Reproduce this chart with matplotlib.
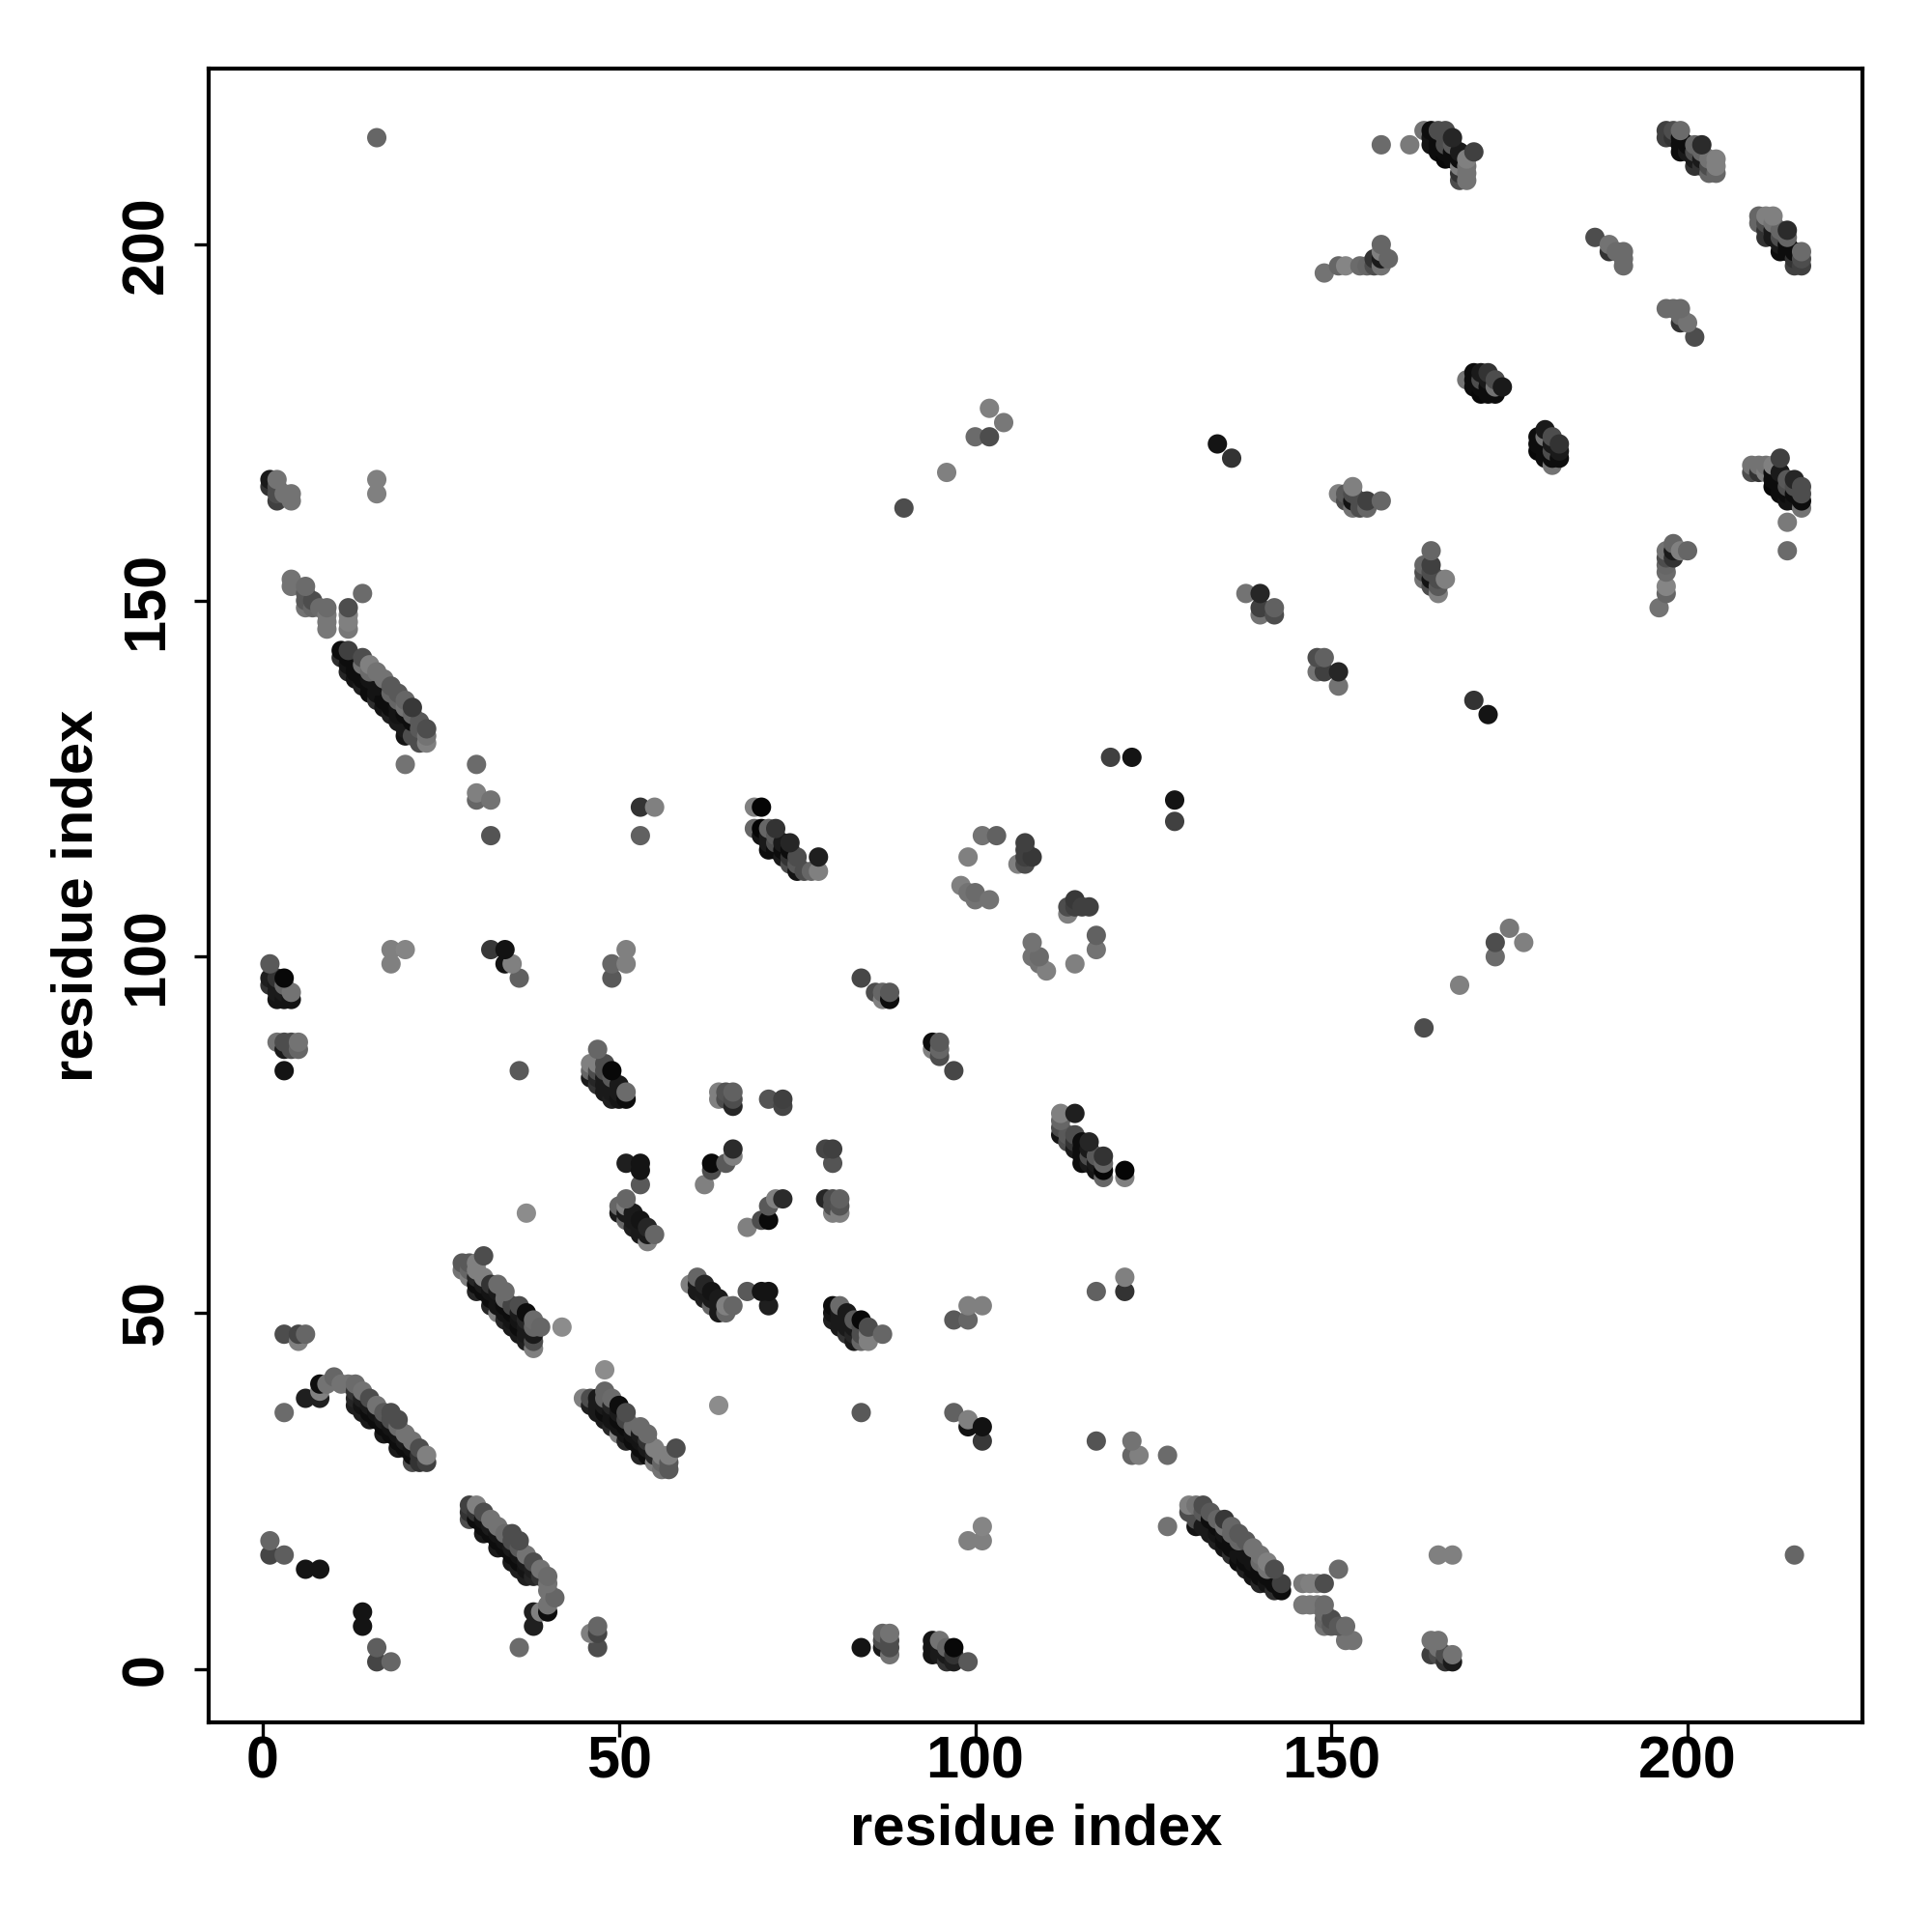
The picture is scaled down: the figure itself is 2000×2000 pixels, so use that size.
import pandas as pd
import matplotlib
matplotlib.use("Agg")
import matplotlib.pyplot as plt

# residue contacts: (residue a, residue b, grey level)
# the map is symmetric, each contact is drawn at (a, b) and (b, a)
near_start = [(1,18,.4),(1,16,.27),(3,16,.37),(6,14,.08),(8,14,.08),(3,36,.42),(3,47,.3),(5,47,.27),(5,46,.5),(6,47,.4),
    (47,6,.4),(46,5,.5),(47,5,.3),(47,3,.3)]
turn_a = [(6,38,.12),(8,38,.12),(8,39,.5),(8,40,.05),(9,40,.45),(10,41,.4),(11,40,.45),(12,40,.45),(13,40,.42),(13,39,.2),
    (13,38,.15),(13,37,.12),(14,39,.45),(14,38,.12),(14,37,.08),(14,36,.12),(15,38,.3),(15,37,.1),(15,36,.05),(15,35,.1),
    (16,37,.45),(16,36,.08),(16,35,.05),(17,36,.35),(17,35,.1),(17,34,.05),(17,33,.1),(18,36,.3),(18,35,.3),(18,34,.08),(18,33,.05),
    (19,35,.3),(19,34,.42),(19,33,.08),(19,32,.05),(19,31,.1),(20,33,.45),(20,32,.1),(20,31,.05),(21,32,.45),(21,31,.08),(21,30,.05),
    (21,29,.3),(22,31,.3),(22,30,.2),(22,29,.2),(23,30,.5),(23,29,.25)]
strand_b = [(29,23,.4),(29,22,.35),(29,21,.3),(30,23,.45),(30,22,.3),(30,21,.2),(31,22,.27),(31,20,.1),(31,19,.1),(32,21,.45),(32,20,.1),
    (32,19,.05),(33,20,.42),(33,19,.08),(33,18,.05),(33,17,.12),(34,19,.42),(34,18,.08),(34,17,.05),(35,18,.27),(35,17,.08),(35,16,.05),
    (35,15,.15),(36,17,.4),(36,16,.08),(36,15,.05),(37,16,.45),(37,15,.1),(37,14,.05),(37,13,.15),(38,15,.3),(38,14,.08),(38,13,.05),
    (39,14,.45),(39,13,.2),(40,13,.47),(40,12,.5),(40,11,.5),(41,10,.42),(40,9,.3),(40,8,.1),(39,8,.5),(38,8,.1),(38,6,.12),(36,3,.42)]
strand_c = [(45,38,.5),(46,38,.3),(46,37,.12),(47,38,.1),(47,37,.1),(47,36,.1),(48,42,.55),(48,39,.4),(48,38,.4),(48,37,.1),(48,36,.05),(48,35,.1),
    (49,38,.42),(49,36,.08),(49,35,.08),(49,34,.15),(50,37,.05),(50,36,.1),(50,35,.05),(50,34,.08),(51,36,.3),(51,35,.27),(51,34,.05),(51,33,.08),(51,32,.15),
    (52,34,.42),(52,33,.08),(52,32,.05),(53,34,.42),(53,33,.1),(53,32,.08),(53,31,.05),(53,30,.15),(54,33,.42),(54,32,.2),(54,31,.1),(54,30,.05),
    (55,31,.5),(55,30,.15),(55,29,.5),(56,30,.5),(56,28,.45),(57,30,.5),(57,29,.35),(57,28,.35),(58,31,.3)]
strand_d = [(28,57,.4),(28,56,.5),(29,57,.4),(29,56,.4),(30,57,.45),(30,56,.5),(30,55,.15),(30,53,.3),(31,58,.35),(31,55,.5),(31,54,.05),(31,53,.08),
    (32,54,.35),(32,53,.05),(32,52,.05),(32,51,.15),(33,54,.45),(33,53,.12),(33,52,.05),(33,51,.05),(33,50,.5),(34,52,.4),(34,51,.05),(34,50,.05),(34,49,.12),
    (35,51,.3),(35,50,.08),(35,49,.05),(35,48,.08),(36,50,.35),(36,49,.05),(36,48,.05),(36,47,.1),(37,50,.02),(37,49,.15),(37,48,.05),(38,49,.05),(38,48,.35),(38,47,.05),(38,46,.4),(38,45,.5),(39,48,.4),(42,48,.5)]
mid_low = [(60,54,.5),(61,55,.4),(62,54,.15),(62,53,.1),(62,52,.12),(63,53,.08),(63,52,.1),(63,51,.4),(64,52,.1),(64,51,.1),(64,50,.1),(65,51,.5),(65,50,.4),(66,51,.4),
    (68,53,.35),(70,53,.08),(71,53,.08),(71,51,.12),(80,51,.05),(80,50,.08),(80,49,.12),(81,51,.42),(81,50,.1),(81,49,.1),(81,48,.1),(82,49,.1),(82,48,.1),(82,47,.2),(83,49,.35),
    (83,48,.1),(83,47,.15),(83,46,.1),(84,49,.03),(84,47,.3),(84,46,.4),(85,47,.5),(85,46,.5),(87,47,.4),(99,51,.5),(101,51,.5),(97,49,.35),(99,49,.4),
    (117,53,.38),(121,55,.5),(121,53,.2),(64,37,.55),(84,36,.35),(97,36,.38),(99,35,.5),(99,34,.07),(101,34,.07),(101,32,.22),(117,32,.33),(122,32,.45),(122,30,.4),(123,30,.5),(127,30,.42),
    (127,20,.45),(99,18,.5),(101,18,.5),(101,20,.52),(84,3,.08),(87,5,.4),(88,5,.45),(88,4,.3),(88,3,.3),(87,3,.1),(88,2,.45),(87,4,.3),
    (94,4,.08),(94,3,.08),(94,2,.08),(95,4,.45),(95,3,.1),(95,2,.1),(96,3,.4),(96,2,.1),(96,1,.2),(97,3,.03),(97,2,.2),(97,1,.12),(99,1,.35)]
strand_e = [(131,20,.08),(131,21,.3),(132,20,.1),(133,19,.1),(134,18,.12),(134,19,.08),(135,18,.05),(135,17,.08),(136,16,.18),(136,17,.05),(137,16,.08),(137,15,.05),(138,14,.12),(138,15,.05),
    (139,14,.05),(139,13,.08),(140,12,.15),(140,13,.05),(141,12,.08),(142,11,.18),(142,12,.05),(143,12,.25),(143,11,.05),
    (130,23,.5),(130,22,.3),(131,23,.45),(132,23,.3),(132,22,.35),(133,22,.35),(134,21,.4),(135,21,.22),(136,20,.4),(136,19,.4),(137,19,.35),(137,18,.4),(138,18,.35),(139,17,.45),(140,16,.45),
    (140,15,.42),(141,15,.5),(141,14,.45),(142,14,.3),(146,12,.47),(148,12,.5),(149,12,.3),(151,14,.42),(146,9,.47),(147,9,.47),(149,9,.42),(149,8,.42),(149,7,.4),(149,6,.45),(150,7,.3),(150,6,.35),(151,6,.35),
    (152,6,.42),(152,4,.45),(153,4,.45),(164,4,.45),(164,2,.25),(165,4,.45),(165,16,.5),(167,16,.5),(215,16,.4),(166,2,.3),(166,1,.2),(167,2,.45),(167,1,.1),(165,2,.3)]
strand_f = [(1,167,.15),(2,167,.47),(1,166,.35),(2,165,.05),(2,164,.3),(3,165,.45),(4,165,.42),(4,164,.47),(16,167,.5),(16,165,.45),
    (4,153,.45),(4,152,.45),(6,152,.42),(6,150,.35),(6,149,.45),(7,150,.35),(7,149,.4),(8,149,.45),(9,149,.42),(9,148,.47),(9,146,.47),(14,151,.42),(12,149,.3),(12,147,.5),(12,146,.5),
    (11,143,.12),(12,143,.3),(11,142,.35),(12,142,.08),(12,141,.08),(12,140,.2),(13,141,.05),(13,140,.12),(14,141,.4),(14,140,.05),(14,139,.08),(15,141,.47),(15,140,.4),(15,139,.08),
    (16,138,.08),(17,139,.45),(18,138,.3),(18,137,.08),(18,136,.05),(20,136,.35),(20,135,.45),(21,134,.08),(19,135,.08),(21,133,.05),(22,132,.05),(20,134,.05),(20,132,.08),(20,131,.05),(21,131,.08),(20,127,.45),(30,127,.4),
    (30,123,.5),(30,122,.4),(32,122,.35),(32,117,.33),(53,121,.2),(55,121,.5),(53,117,.4)]
left_mid = [(18,101,.5),(20,101,.5),(18,99,.47),(32,101,.3),(34,101,.08),(34,99,.05),(35,99,.47),(36,97,.35),(51,101,.5),(51,99,.5),(49,99,.42),(49,97,.35),
    (1,99,.3),(1,97,.12),(1,96,.2),(2,97,.3),(3,97,.03),(2,96,.35),(3,96,.1),(4,95,.42),(2,95,.1),(3,95,.1),(2,94,.08),(4,94,.2),(3,94,.15),
    (2,88,.47),(3,88,.3),(4,88,.2),(5,88,.5),(3,87,.15),(4,87,.2),(5,87,.3),(3,84,.08),(36,84,.3),
    (47,87,.42),(46,85,.5),(47,85,.5),(48,85,.3),(46,84,.1),(47,84,.1),(46,83,.05),(47,83,.12),(48,84,.3),(49,84,.02),(49,83,.3),(48,83,.08),(48,82,.1),(49,82,.1),(48,81,.1),(50,82,.1),(49,81,.1),(50,81,.15),(49,80,.12),(50,80,.1),(51,81,.47),(51,80,.03),
    (51,71,.12),(53,71,.08),(53,70,.05),(53,68,.33),(37,64,.5),(51,66,.42),(50,65,.45),(51,65,.5),(50,64,.1),(51,64,.3),(52,64,.05),(51,63,.5),(52,63,.1),(53,63,.08),(52,62,.15),(53,62,.1),(54,62,.08),(53,61,.1),(54,61,.1),(55,61,.4),(54,60,.5)]
center = [(64,81,.5),(64,80,.5),(65,81,.33),(65,80,.3),(66,81,.38),(66,80,.3),(66,79,.15),(71,80,.33),(73,80,.25),(73,79,.27),(66,73,.17),(66,72,.5),(63,71,.04),(63,70,.3),(65,71,.35),(62,68,.5),
    (79,73,.22),(80,73,.22),(80,71,.3),(73,66,.17),(72,66,.5),(71,65,.35),(71,63,.05),(70,63,.25),(68,62,.5),(79,66,.12),(80,66,.2),(81,66,.4),(81,65,.3),(80,64,.5),(81,64,.5),
    (84,97,.28),(86,95,.3),(87,95,.4),(87,94,.5),(88,95,.35),(88,94,.05),(94,88,.05),(95,88,.33),(94,87,.45),(95,87,.3),(95,86,.3),(97,84,.25),
    (99,114,.5),(101,117,.45),(103,117,.38),(98,110,.5),(99,109,.45),(100,109,.42),(100,108,.45),(102,108,.45),(107,116,.25),(107,115,.25),(108,114,.22),(106,113,.5),(107,113,.3),
    (114,108,.25),(113,107,.25),(114,107,.25),(115,107,.25),(116,107,.22),(113,106,.5),(117,103,.4),(117,101,.45),(114,99,.5),(108,102,.45),(108,100,.45),(109,100,.4),(109,99,.45),(110,98,.5)]
helix_g = [(112,78,.5),(114,78,.12),(112,77,.4),(112,75,.08),(113,75,.35),(114,75,.3),(113,74,.3),(114,74,.2),(114,73,.1),(115,74,.05),(116,74,.15),(115,73,.05),(115,72,.05),(115,71,.05),(116,73,.1),(116,72,.3),(116,71,.1),
    (117,72,.35),(118,72,.2),(117,71,.1),(118,71,.4),(117,70,.08),(118,70,.02),(118,69,.4),(121,70,.02),(121,69,.5),
    (69,118,.45),(70,118,.05),(71,118,.4),(72,118,.3),(70,117,.05),(71,117,.05),(72,117,.1),(71,116,.05),(72,116,.1),(73,116,.5),(74,116,.2),(71,115,.05),(72,115,.1),(73,115,.1),(74,115,.1),(73,114,.08),(74,114,.1),(75,114,.35),(78,114,.12),(74,113,.1),(75,113,.1),(75,112,.1),(76,112,.3),(77,112,.5),(78,112,.5)]
upper_mid = [(90,163,.3),(96,168,.5),(100,173,.42),(102,173,.3),(102,177,.5),(104,175,.47),(134,172,.08),(136,170,.2),(151,165,.5),(152,165,.35),(153,166,.5),(152,164,.3),(153,164,.07),(153,163,.45),(154,164,.3),(155,164,.25),(155,163,.4),(157,164,.4),
    (164,157,.42),(163,155,.35),(164,155,.22),(163,154,.3),(164,154,.2),(163,153,.45),(164,153,.05),(165,153,.3),(165,152,.3),(165,151,.45),(166,153,.5),
    (138,151,.45),(140,151,.15),(140,149,.25),(140,148,.45),(142,149,.38),(142,148,.3),(148,142,.27),(149,142,.38),(148,140,.45),(149,140,.25),(151,140,.15),(151,138,.45),(170,136,.2),(172,134,.1),
    (119,128,.25),(122,128,.08),(128,122,.08),(128,119,.25),(16,215,.4)]
cluster_h = [(169,181,.45),(170,182,.05),(170,181,.05),(170,180,.05),(171,182,.1),(171,181,.3),(171,180,.05),(171,179,.03),(172,182,.2),(172,181,.1),(172,180,.05),(172,179,.05),(173,180,.45),(173,179,.05),(174,180,.1),
    (179,173,.05),(180,174,.08),(179,172,.05),(179,171,.05),(180,173,.05),(180,172,.4),(180,171,.05),(181,173,.3),(181,172,.35),(181,171,.35),(181,170,.15),(181,169,.45),(182,172,.2),(182,171,.4),(182,170,.05)]
cluster_i = [(197,216,.25),(197,215,.25),(198,216,.3),(199,216,.42),(198,215,.2),(199,215,.05),(199,214,.05),(199,213,.05),(200,214,.05),(200,213,.1),(201,214,.4),(201,213,.3),(202,214,.17),(201,212,.1),(202,212,.1),(201,211,.2),(202,211,.2),(203,212,.45),(203,211,.3),(204,212,.5),(204,211,.5),(203,210,.4),(204,210,.4),
    (210,204,.42),(210,203,.3),(211,204,.5),(212,204,.5),(211,203,.3),(212,203,.3),(211,202,.15),(212,202,.15),(211,201,.2),(212,201,.1),(213,202,.4),(214,202,.15),(213,201,.1),(214,201,.05),(213,200,.05),(213,199,.05),(214,200,.05),(214,199,.05),(215,199,.05),(216,199,.42),(216,198,.35),(215,198,.3),(215,197,.2),(216,197,.2),
    (187,201,.3),(189,200,.45),(189,199,.2),(190,199,.42),(191,199,.42),(191,198,.42),(191,197,.42),(197,191,.42),(198,191,.42),(199,191,.42),(199,190,.42),(199,189,.25),(200,189,.48),(201,187,.3)]
cluster_j = [(209,169,.45),(209,168,.3),(210,169,.45),(211,169,.45),(212,168,.05),(212,167,.05),(212,166,.03),(213,170,.25),(213,168,.1),(213,167,.05),(213,166,.05),(214,167,.35),(214,165,.05),(214,164,.08),(215,167,.15),(215,166,.3),(215,165,.05),(215,164,.08),(216,166,.3),(216,165,.3),(216,164,.05),(216,163,.45),(214,161,.48),(214,157,.42),
    (198,158,.4),(197,157,.45),(198,157,.1),(199,157,.5),(200,157,.4),(197,156,.3),(198,156,.2),(197,155,.4),(197,154,.42),(197,152,.52),(197,151,.4),(196,149,.45)]
cluster_k = [(157,214,.42),(161,214,.47),(163,216,.42),(164,216,.03),(165,216,.3),(164,215,.05),(165,215,.1),(166,216,.35),(164,214,.03),(165,214,.1),(166,215,.35),(167,215,.17),(166,214,.3),(167,214,.3),(165,213,.05),(166,213,.05),(167,213,.05),(166,212,.03),(167,212,.05),(168,212,.03),(168,213,.05),(170,213,.25),(169,212,.5),(169,211,.45),(168,211,.5),(168,210,.2),(169,210,.5),
    (149,196,.47),(151,197,.45),(152,197,.5),(154,197,.42),(156,198,.3),(156,197,.35),(157,200,.4),(157,199,.5),(157,198,.08),(157,197,.45),(158,198,.4)]

blocks = [near_start, turn_a, strand_b, strand_c, strand_d, mid_low, strand_e, strand_f, left_mid, center, helix_g, upper_mid, cluster_h, cluster_i, cluster_j, cluster_k]
tick_values = [0, 50, 100, 150, 200]


def main():
    df = pd.DataFrame([c for b in blocks for c in b], columns=["a", "b", "grey"])
    low = df[["a", "b"]].min(axis=1)
    high = df[["a", "b"]].max(axis=1)
    pairs = pd.DataFrame({"x": low, "y": high, "grey": df["grey"]}).drop_duplicates(["x", "y"])
    swapped = pairs.rename(columns={"x": "y", "y": "x"})
    both = pd.concat([pairs, swapped])
    # points further up and right sit on top, as in the lighter band edges
    both["rank"] = both["x"] + both["y"]
    both = both.sort_values(["rank", "x"])

    plt.rcParams["font.family"] = ["Liberation Sans", "DejaVu Sans"]
    fig = plt.figure(figsize=(10, 10), dpi=200)
    ax = fig.add_axes([0.108, 0.1085, 0.8562, 0.856])
    ax.scatter(both["x"], both["y"], s=52, c=[str(g) for g in both["grey"]], linewidths=0, zorder=3)

    ax.set_xlim(-7.6, 224.6)
    ax.set_ylim(-7.5, 224.7)
    ax.set_xticks(tick_values)
    ax.set_yticks(tick_values)
    ax.tick_params(width=1.2, length=5.5, labelsize=22)
    ax.tick_params(axis="x", pad=-0.7)
    ax.tick_params(axis="y", pad=7)
    for lab in ax.get_xticklabels():
        lab.set_fontweight("bold")
    for lab in ax.get_yticklabels():
        lab.set_fontweight("bold")
        lab.set_rotation(90)
        lab.set_va("center")
    for spine in ax.spines.values():
        spine.set_linewidth(1.5)
    ax.set_xlabel("residue index", fontsize=21.5, fontweight="bold", labelpad=4.6)
    ax.set_ylabel("residue index", fontsize=21.5, fontweight="bold", labelpad=6)
    fig.savefig("out.png", dpi=200)


if __name__ == "__main__":
    main()
